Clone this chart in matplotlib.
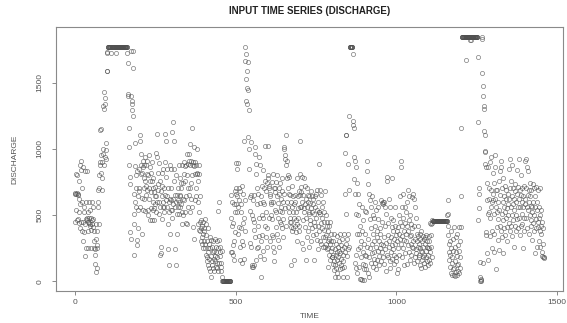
import numpy as np
import matplotlib
matplotlib.use("Agg")
import matplotlib.pyplot as plt

# daily discharge in blocks of 100 days
q_000 = [660, 665, 450, 810, 660, 540, 460, 665, 800, 650,
         470, 660, 440, 760, 620, 520, 400, 880, 580, 450,
         910, 840, 600, 380, 700, 450, 300, 860, 520, 370,
         560, 430, 190, 830, 470, 250, 600, 480, 460, 830,
         450, 380, 520, 250, 480, 600, 440, 420, 540, 430,
         390, 480, 250, 460, 600, 430, 410, 560, 470, 300,
         250, 380, 130, 240, 200, 430, 70, 320, 100, 270,
         250, 380, 600, 560, 690, 430, 800, 700, 900, 880,
         1140, 950, 820, 1150, 690, 900, 780, 960, 1320, 1000,
         880, 1430, 1300, 940, 1380, 1340, 920, 1040, 990, 1590]
q_100 = [1730, 1590, 1725, 1765, 1765, 1765, 1765, 1765, 1765, 1765,
         1765, 1765, 1725, 1765, 1765, 1765, 1765, 1765, 1765, 1765,
         1765, 1765, 1765, 1765, 1765, 1765, 1765, 1765, 1725, 1765,
         1765, 1765, 1765, 1765, 1765, 1765, 1765, 1765, 1765, 1765,
         1765, 1765, 1765, 1765, 1765, 1765, 1765, 1765, 1765, 1765,
         1765, 1765, 1765, 1765, 1765, 1765, 1765, 1765, 1765, 1765,
         1765, 1765, 1765, 1765, 1720, 1650, 1410, 1400, 1160, 1010,
         880, 785, 735, 370, 320, 1740, 1400, 1360, 1340, 1290,
         1250, 1740, 1610, 195, 430, 510, 660, 1040, 600, 870,
         800, 560, 700, 310, 835, 270, 400, 535, 640, 680]
q_200 = [700, 850, 560, 1100, 1060, 810, 880, 960, 360, 630,
         820, 860, 910, 540, 780, 700, 880, 620, 940, 760,
         530, 880, 650, 720, 910, 690, 810, 540, 800, 500,
         950, 620, 700, 460, 760, 860, 670, 550, 820, 460,
         900, 760, 700, 600, 540, 780, 670, 550, 460, 640,
         580, 710, 970, 520, 640, 1110, 600, 940, 690, 820,
         730, 510, 890, 600, 760, 195, 560, 210, 680, 260,
         720, 640, 820, 470, 560, 600, 850, 520, 700, 560,
         1110, 650, 900, 610, 1060, 790, 560, 850, 640, 430,
         245, 700, 520, 120, 600, 880, 620, 360, 540, 700]
q_300 = [610, 850, 540, 1125, 480, 620, 1200, 580, 760, 1060,
         850, 650, 245, 560, 800, 120, 600, 510, 360, 650,
         700, 560, 610, 510, 600, 880, 780, 640, 650, 560,
         580, 740, 700, 430, 880, 520, 620, 740, 500, 810,
         610, 900, 870, 760, 520, 880, 640, 440, 800, 430,
         960, 700, 885, 560, 960, 650, 910, 520, 1035, 700,
         880, 620, 910, 740, 800, 560, 1160, 880, 410, 900,
         320, 870, 1010, 810, 610, 900, 640, 880, 700, 1000,
         820, 810, 600, 760, 430, 520, 880, 810, 390, 640,
         450, 380, 400, 300, 460, 330, 420, 280, 360, 250]
q_400 = [450, 400, 380, 300, 470, 280, 250, 350, 200, 430,
         180, 300, 150, 250, 120, 220, 400, 100, 280, 170,
         330, 80, 250, 190, 30, 310, 150, 260, 120, 220,
         300, 100, 170, 230, 80, 320, 190, 150, 110, 260,
         220, 140, 300, 180, 100, 250, 530, 80, 600, 140,
         310, 260, 220, 190, 140, 110, 80, 30, 230, 0,
         0, 0, 0, 0, 0, 0, 0, 0, 0, 0,
         0, 0, 0, 0, 0, 0, 0, 0, 0, 0,
         0, 0, 0, 0, 0, 650, 220, 480, 600, 420,
         220, 200, 440, 270, 300, 580, 160, 520, 680, 370]
q_500 = [660, 700, 890, 580, 640, 850, 520, 890, 360, 560,
         610, 410, 700, 260, 680, 160, 580, 520, 400, 135,
         300, 720, 270, 660, 440, 170, 480, 1060, 610, 380,
         1765, 1660, 1715, 1525, 1360, 1335, 1590, 1460, 1085, 1655,
         1440, 1290, 1000, 850, 635, 285, 530, 260, 1050, 650,
         120, 110, 500, 610, 110, 470, 650, 385, 120, 450,
         1010, 960, 330, 885, 810, 160, 580, 250, 700, 420,
         260, 660, 340, 940, 480, 190, 590, 880, 300, 640,
         30, 720, 500, 350, 840, 600, 230, 480, 700, 170,
         580, 1020, 420, 760, 330, 680, 520, 400, 260, 740]
q_600 = [1020, 800, 780, 720, 700, 480, 660, 300, 640, 600,
         580, 500, 750, 470, 350, 810, 330, 600, 260, 220,
         700, 150, 540, 670, 700, 410, 750, 520, 360, 640,
         800, 480, 590, 310, 660, 700, 260, 530, 450, 740,
         620, 430, 560, 780, 680, 400, 520, 600, 330, 470,
         1010, 660, 1000, 550, 950, 920, 420, 1100, 880, 600,
         910, 780, 560, 700, 800, 660, 520, 785, 480, 450,
         650, 120, 600, 450, 410, 560, 380, 720, 520, 640,
         400, 580, 160, 480, 650, 420, 600, 520, 370, 460,
         430, 780, 300, 550, 640, 480, 380, 680, 420, 560]
q_700 = [1060, 650, 810, 710, 560, 670, 285, 790, 600, 245,
         650, 460, 780, 520, 550, 720, 410, 580, 160, 620,
         480, 700, 330, 560, 600, 650, 380, 520, 260, 640,
         510, 430, 590, 460, 680, 550, 300, 640, 400, 520,
         580, 350, 620, 450, 160, 510, 560, 420, 640, 480,
         660, 360, 540, 690, 310, 420, 600, 245, 520, 380,
         885, 520, 685, 300, 510, 440, 650, 280, 560, 400,
         480, 330, 600, 260, 450, 520, 385, 680, 330, 260,
         350, 500, 280, 420, 240, 450, 110, 380, 300, 250,
         420, 200, 320, 450, 280, 160, 360, 230, 300, 180]
q_800 = [250, 180, 300, 130, 200, 85, 360, 150, 240, 30,
         120, 280, 200, 100, 340, 160, 220, 60, 260, 180,
         30, 300, 140, 230, 90, 360, 210, 120, 270, 170,
         240, 100, 320, 30, 200, 150, 260, 360, 110, 220,
         970, 660, 1100, 510, 1100, 280, 30, 320, 190, 240,
         360, 885, 260, 685, 1250, 1765, 1765, 1765, 1765, 1765,
         1765, 1765, 1765, 1765, 1715, 1210, 1180, 1160, 770, 935,
         660, 140, 910, 200, 860, 100, 510, 60, 360, 740,
         660, 240, 500, 360, 110, 580, 260, 20, 420, 15,
         300, 180, 560, 10, 380, 220, 130, 460, 90, 280]
q_900 = [10, 360, 200, 530, 120, 520, 90, 190, 260, 910,
         835, 60, 735, 320, 180, 660, 30, 610, 250, 470,
         140, 560, 400, 280, 640, 210, 500, 110, 360, 170,
         480, 300, 220, 600, 140, 420, 260, 540, 90, 380,
         160, 330, 470, 230, 560, 190, 300, 120, 400, 250,
         360, 150, 280, 610, 220, 590, 450, 180, 600, 270,
         580, 130, 330, 600, 240, 560, 420, 80, 290, 510,
         785, 200, 760, 350, 180, 440, 620, 260, 300, 150,
         560, 100, 480, 330, 220, 780, 410, 170, 270, 380,
         240, 460, 130, 320, 200, 560, 280, 420, 180, 350]
q_1000 = [150, 380, 60, 300, 410, 90, 250, 360, 500, 200,
          450, 320, 640, 280, 910, 860, 420, 180, 560, 340,
          660, 250, 480, 120, 380, 310, 560, 210, 440, 360,
          520, 300, 130, 600, 420, 270, 685, 380, 220, 460,
          640, 340, 160, 500, 280, 430, 200, 350, 260, 400,
          635, 300, 660, 250, 135, 620, 420, 180, 560, 320,
          240, 480, 210, 360, 300, 150, 420, 260, 340, 180,
          280, 200, 360, 120, 320, 250, 100, 230, 380, 160,
          300, 220, 340, 180, 260, 140, 320, 200, 280, 110,
          330, 230, 180, 350, 260, 150, 300, 200, 120, 250]
q_1100 = [250, 340, 160, 300, 220, 440, 140, 430, 260, 350,
          460, 180, 440, 455, 455, 455, 455, 455, 455, 455,
          455, 455, 455, 455, 455, 455, 455, 455, 455, 455,
          455, 455, 455, 455, 455, 455, 455, 455, 455, 455,
          455, 455, 455, 455, 455, 455, 455, 455, 455, 455,
          455, 455, 455, 455, 455, 455, 455, 455, 500, 610,
          510, 350, 420, 280, 220, 160, 300, 200, 110, 250,
          380, 60, 180, 45, 140, 320, 90, 230, 50, 410,
          100, 260, 40, 150, 330, 70, 220, 120, 45, 190,
          360, 80, 270, 130, 60, 230, 410, 100, 300, 180]
q_1200 = [640, 1160, 410, 1845, 1845, 1845, 1845, 1845, 1845, 1845,
          1845, 1845, 1845, 1845, 1845, 1670, 1845, 1845, 1845, 1845,
          1845, 1845, 1845, 1845, 1845, 1845, 1845, 1845, 1820, 1845,
          1845, 1845, 1845, 1820, 1845, 1845, 1845, 1845, 1845, 1845,
          1845, 1845, 1845, 1845, 1845, 1845, 1845, 1845, 1845, 1845,
          1845, 1845, 1845, 1690, 1200, 460, 700, 660, 550, 145,
          30, 0, 10, 0, 20, 1845, 1825, 1575, 1475, 1400,
          140, 1325, 1300, 1135, 980, 1100, 975, 885, 860, 370,
          345, 745, 610, 210, 510, 860, 160, 700, 520, 620,
          340, 900, 480, 690, 560, 940, 380, 250, 600, 820]
q_1300 = [660, 610, 510, 360, 745, 220, 950, 620, 860, 95,
          685, 560, 410, 690, 520, 310, 600, 470, 760, 235,
          540, 420, 835, 650, 910, 380, 860, 510, 700, 330,
          600, 460, 780, 210, 560, 640, 400, 720, 520, 350,
          690, 480, 620, 300, 550, 410, 660, 500, 580, 440,
          850, 620, 380, 700, 920, 560, 420, 760, 500, 640,
          340, 880, 580, 700, 460, 620, 260, 540, 680, 420,
          730, 500, 600, 380, 840, 470, 660, 560, 710, 400,
          920, 620, 480, 690, 350, 560, 800, 420, 650, 510,
          600, 430, 700, 560, 250, 640, 480, 720, 380, 580]
q_1400 = [910, 620, 700, 920, 480, 560, 860, 400, 650, 540,
          830, 600, 360, 690, 500, 640, 740, 460, 570, 420,
          685, 520, 310, 560, 735, 440, 600, 380, 700, 500,
          560, 210, 640, 470, 710, 400, 540, 260, 600, 450,
          410, 690, 480, 300, 560, 380, 700, 260, 500, 420,
          360, 540, 220, 450, 190, 400, 280, 185, 175, 180]

x_ticks = [0, 500, 1000, 1500]
y_ticks = [0, 500, 1000, 1500]

discharge = np.array(q_000 + q_100 + q_200 + q_300 + q_400 + q_500 + q_600 + q_700
                     + q_800 + q_900 + q_1000 + q_1100 + q_1200 + q_1300 + q_1400)
time = np.arange(len(discharge))

plt.rcParams['font.family'] = ['Liberation Sans', 'DejaVu Sans']
fig = plt.figure(figsize=(5.67, 3.23), dpi=100)
ax = fig.add_axes([56/567, 32/323, 507/567, 264/323])

ax.plot(time, discharge, linestyle='none', marker='o', markersize=3.0,
        markerfacecolor='none', markeredgecolor='#505050', markeredgewidth=0.5, alpha=0.75)

ax.set_xlim(-58, 1518)
ax.set_ylim(-74, 1919)
ax.set_xticks(x_ticks)
ax.set_yticks(y_ticks)
ax.set_yticklabels([str(v) for v in y_ticks], rotation=90, va='center')
for s in ax.spines.values():
    s.set_color('#8a8a8a')
    s.set_linewidth(0.8)
ax.tick_params(colors='#8a8a8a', labelcolor='#555555', labelsize=6, length=3, width=0.7, pad=3)
ax.tick_params(axis='y', pad=6)

ax.set_title('INPUT TIME SERIES (DISCHARGE)', fontsize=7, fontweight='bold', color='#222222', pad=9)
ax.set_xlabel('TIME', fontsize=6, color='#555555', labelpad=5)
ax.set_ylabel('DISCHARGE', fontsize=6, color='#555555', labelpad=13)

fig.savefig('out.png', dpi=100)
